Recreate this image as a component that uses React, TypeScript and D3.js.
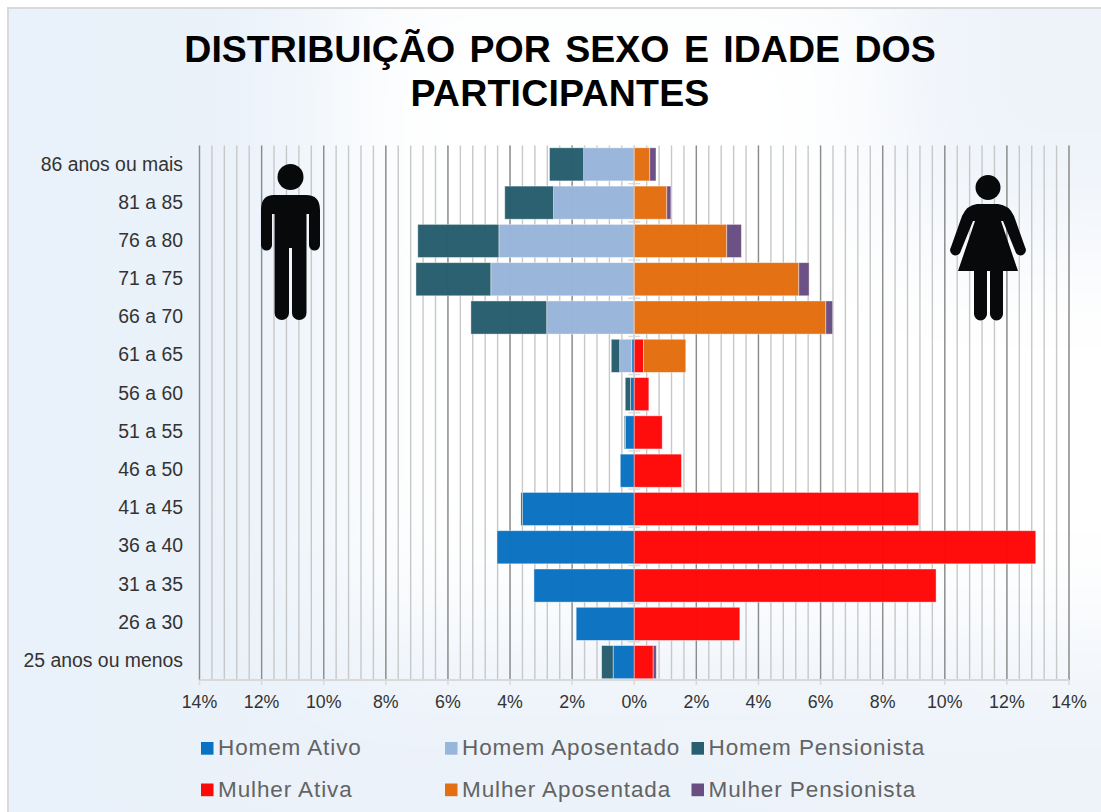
import React from 'react'
import * as d3 from 'd3'

const width = 1101
const height = 812

const ageGroups = ['86 anos ou mais', '81 a 85', '76 a 80', '71 a 75', '66 a 70', '61 a 65', '56 a 60', '51 a 55', '46 a 50', '41 a 45', '36 a 40', '31 a 35', '26 a 30', '25 anos ou menos']

// values in %, same order as ageGroups
const homemAtivo = [0, 0, 0, 0, 0, 0.08, 0.12, 0.28, 0.45, 3.6, 4.42, 3.23, 1.87, 0.68]
const homemAposentado = [1.63, 2.6, 4.36, 4.62, 2.82, 0.39, 0, 0, 0, 0, 0, 0, 0, 0]
const homemPensionista = [1.1, 1.57, 2.61, 2.41, 2.44, 0.27, 0.17, 0.04, 0, 0.05, 0, 0, 0, 0.37]
const mulherAtiva = [0, 0, 0, 0, 0, 0.3, 0.47, 0.9, 1.52, 9.16, 12.93, 9.72, 3.4, 0.61]
const mulherAposentada = [0.5, 1.05, 2.98, 5.3, 6.17, 1.36, 0, 0, 0, 0, 0, 0, 0, 0]
const mulherPensionista = [0.2, 0.13, 0.47, 0.33, 0.22, 0, 0, 0, 0, 0, 0, 0, 0, 0.1]

const axisTicks = [-14, -12, -10, -8, -6, -4, -2, 0, 2, 4, 6, 8, 10, 12, 14]
const minorTicks = d3.range(-140, 141, 4).map((d) => d / 10)

const menSeries = [
  { name: 'Homem Ativo', color: '#0a72c2', values: homemAtivo },
  { name: 'Homem Aposentado', color: '#98b6da', values: homemAposentado },
  { name: 'Homem Pensionista', color: '#285e6e', values: homemPensionista }
]
const womenSeries = [
  { name: 'Mulher Ativa', color: '#ff0808', values: mulherAtiva },
  { name: 'Mulher Aposentada', color: '#e36f10', values: mulherAposentada },
  { name: 'Mulher Pensionista', color: '#694e82', values: mulherPensionista }
]

const legendX = [201, 445, 691.5]
const legendY = [748.5, 790]

const sans = 'Liberation Sans, Arial, sans-serif'

function stack (series: typeof menSeries, i: number) {
  let sum = 0
  return series.map((s) => {
    const from = sum
    sum += s.values[i]
    return { color: s.color, from, to: sum, value: s.values[i] }
  })
}

export default function App () {
  const x = d3.scaleLinear().domain([-14, 14]).range([199.5, 1069])
  const y = d3.scaleBand().domain(ageGroups).range([145.5, 681]).paddingInner(0.135).paddingOuter(0.06)
  const band = d3.scaleBand().domain(ageGroups).range([145.5, 680])

  return (
    <svg width={width} height={height} style={{ position: 'absolute', left: 0, top: 0, fontFamily: sans }}>
      <defs>
        <linearGradient id='bgBase' x1='0' y1='0' x2='1' y2='0'>
          <stop offset='0' stopColor='#e9f1fa' />
          <stop offset='1' stopColor='#eef3f9' />
        </linearGradient>
        <filter id='soft' x='-40%' y='-40%' width='180%' height='180%'>
          <feGaussianBlur stdDeviation='65' />
        </filter>
      </defs>

      <rect x={0} y={0} width={width} height={height} fill='#ffffff' />
      <rect x={8} y={8} width={1093} height={804} fill='url(#bgBase)' />
      <g fill='#ffffff' filter='url(#soft)'>
        <rect x={330} y={-60} width={560} height={700} />
        <rect x={560} y={240} width={800} height={400} />
      </g>
      <path d='M8 812V8H1101' fill='none' stroke='#d9d9d9' strokeWidth={2} />

      <text textAnchor='middle' fontWeight='bold' fontSize={37.5} fill='#000'>
        <tspan x={560} y={62} wordSpacing={4}>DISTRIBUIÇÃO POR SEXO E IDADE DOS</tspan>
        <tspan x={560} y={106} letterSpacing={0.2}>PARTICIPANTES</tspan>
      </text>

      {/* gridlines */}
      {minorTicks.map((d) => (
        <line key={d} x1={x(d)} x2={x(d)} y1={145.5} y2={680} stroke='#c8c8c8' strokeWidth={1.4} />
      ))}
      {axisTicks.map((d) => (
        <line key={d} x1={x(d)} x2={x(d)} y1={145.5} y2={680} stroke={d === 0 ? '#d0d0d0' : '#8c8c8c'} strokeWidth={1.3} />
      ))}

      {/* category ticks on the centre axis */}
      {ageGroups.slice(1).map((d) => (
        <line key={d} x1={x(0) - 6} x2={x(0) + 6} y1={band(d)} y2={band(d)} stroke='#d9d9d9' strokeWidth={1.4} />
      ))}

      {/* icons */}
      <g fill='#08090b'>
        <circle cx={290.5} cy={177} r={13} />
        <path d='M274 195H306Q320 195 320 210V245A5.5 5.5 0 0 1 309 245V214H306.5V313A7.2 7 0 0 1 292 313V248H289V313A7.2 7 0 0 1 274.6 313V214H272V245A5.5 5.5 0 0 1 261 245V210Q261 195 274 195Z' />
        <circle cx={988} cy={187.5} r={12.5} />
        <path d='M977 204H998Q1009 205 1014 216L1025 247A5 5 0 0 1 1016 253L1003 221H1001L1018 271H1003V314A6.5 6.5 0 0 1 990 314V271H987V314A6.5 6.5 0 0 1 974 314V271H958L975 221H973L960 253A5 5 0 0 1 951 247L962 216Q967 205 977 204Z' />
      </g>

      {/* bars */}
      {ageGroups.map((age, i) => (
        <g key={age} fillOpacity={0.98} stroke='#ffffff' strokeOpacity={0.5} strokeWidth={0.8}>
          {stack(menSeries, i).filter((d) => d.value > 0).map((d) => (
            <rect key={d.color} x={x(-d.to)} y={y(age)} width={x(-d.from) - x(-d.to)} height={y.bandwidth()} fill={d.color} />
          ))}
          {stack(womenSeries, i).filter((d) => d.value > 0).map((d) => (
            <rect key={d.color} x={x(d.from)} y={y(age)} width={x(d.to) - x(d.from)} height={y.bandwidth()} fill={d.color} />
          ))}
        </g>
      ))}

      {/* x axis */}
      <line x1={x(-14)} x2={x(14)} y1={680} y2={680} stroke='#d9d9d9' strokeWidth={2} />
      {axisTicks.map((d) => (
        <g key={d}>
          <line x1={x(d)} x2={x(d)} y1={680} y2={685} stroke='#d9d9d9' strokeWidth={1.5} />
          <text x={x(d)} y={708} textAnchor='middle' fontSize={17.8} fill='#333'>{Math.abs(d)}%</text>
        </g>
      ))}

      {/* y labels */}
      {ageGroups.map((age) => (
        <text key={age} x={183} y={(band(age) as number) + band.bandwidth() / 2 + 6} textAnchor='end' fontSize={19.4} fill='#333'>{age}</text>
      ))}

      {/* legend */}
      {[menSeries, womenSeries].map((row, r) => row.map((s, c) => (
        <g key={s.name}>
          <rect x={legendX[c]} y={legendY[r] - 6.5} width={12.5} height={12.7} fill={s.color} />
          <text x={legendX[c] + 17} y={legendY[r] + 6.5} fontSize={22.5} letterSpacing={0.9} fill='#636363'>{s.name}</text>
        </g>
      )))}
    </svg>
  )
}
